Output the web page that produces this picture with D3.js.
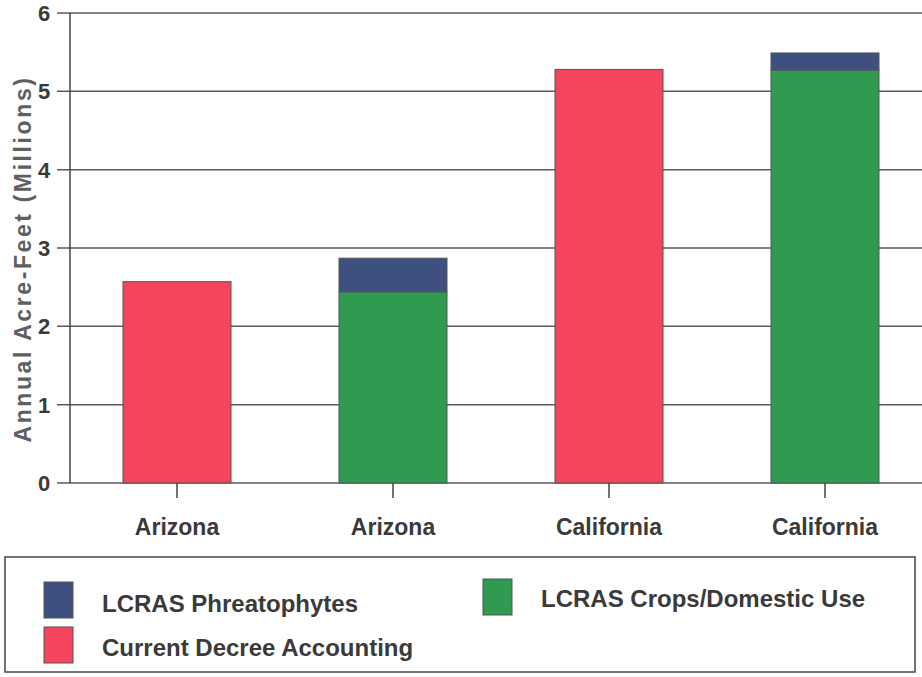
<!DOCTYPE html>
<meta charset="utf-8">
<script src="https://d3js.org/d3.v7.min.js"></script>
<style>
  body { margin: 0; background: #fff; }
  text { font-family: "Liberation Sans", Arial, sans-serif; }
</style>
<div id="chart"></div>
<script>
// data (millions of acre-feet)
var categories = ["Arizona", "Arizona ", "California", "California "];
var decree     = [2.57, 0, 5.28, 0];
var crops      = [0, 2.44, 0, 5.27];
var phreato    = [0, 0.43, 0, 0.22];
var yTicks     = [0, 1, 2, 3, 4, 5, 6];

var seriesKeys   = ["decree", "crops", "phreato"];
var seriesColors = {decree: "#f4455c", crops: "#2f9a50", phreato: "#3d5080"};

var rows = categories.map(function(c, i) {
  return {cat: c, decree: decree[i], crops: crops[i], phreato: phreato[i]};
});

var W = 922, H = 677;
var margin = {top: 13, left: 70},
    plotH = 470;

var svg = d3.select("#chart").append("svg")
    .attr("width", W)
    .attr("height", H);

// plot runs past the right edge of the picture (it was cropped)
var x = d3.scaleBand()
    .domain(categories)
    .range([margin.left - 1, margin.left + 863])
    .paddingInner(0.5)
    .paddingOuter(0.25);

var y = d3.scaleLinear()
    .domain([0, 6])
    .range([margin.top + plotH, margin.top]);

// gridlines + left ticks
svg.append("g")
    .selectAll("line")
    .data(yTicks)
    .enter().append("line")
      .attr("x1", margin.left - 13)
      .attr("x2", W + 20)
      .attr("y1", function(d) { return y(d); })
      .attr("y2", function(d) { return y(d); })
      .attr("stroke", "#5a5a5a")
      .attr("stroke-width", 1.5);

// y tick labels
svg.append("g")
    .selectAll("text")
    .data(yTicks)
    .enter().append("text")
      .attr("x", 44)
      .attr("y", function(d) { return y(d); })
      .attr("dy", "0.36em")
      .attr("text-anchor", "middle")
      .style("font-size", "22px")
      .style("font-weight", "bold")
      .style("fill", "#3a3a3a")
      .text(function(d) { return d; });

// y axis line
svg.append("line")
    .attr("x1", margin.left).attr("x2", margin.left)
    .attr("y1", y(6)).attr("y2", y(0))
    .attr("stroke", "#444")
    .attr("stroke-width", 1.5);

// stacked bars
var stacked = d3.stack().keys(seriesKeys)(rows);

svg.append("g")
    .selectAll("g")
    .data(stacked)
    .enter().append("g")
      .attr("fill", function(d) { return seriesColors[d.key]; })
    .selectAll("rect")
    .data(function(d) { return d.filter(function(p) { return p[1] - p[0] > 0; }); })
    .enter().append("rect")
      .attr("x", function(d) { return x(d.data.cat); })
      .attr("width", x.bandwidth())
      .attr("y", function(d) { return y(d[1]); })
      .attr("height", function(d) { return y(d[0]) - y(d[1]); })
      .attr("stroke", "#555")
      .attr("stroke-width", 1);

// x ticks + labels
var xg = svg.append("g");
xg.selectAll("line")
    .data(categories)
    .enter().append("line")
      .attr("x1", function(d) { return x(d) + x.bandwidth() / 2; })
      .attr("x2", function(d) { return x(d) + x.bandwidth() / 2; })
      .attr("y1", y(0))
      .attr("y2", y(0) + 15)
      .attr("stroke", "#444")
      .attr("stroke-width", 1.5);
xg.selectAll("text")
    .data(categories)
    .enter().append("text")
      .attr("x", function(d) { return x(d) + x.bandwidth() / 2; })
      .attr("y", 535)
      .attr("text-anchor", "middle")
      .style("font-size", "23px")
      .style("font-weight", "bold")
      .style("fill", "#3a3a3a")
      .text(function(d) { return d.trim(); });

// y axis title
svg.append("text")
    .attr("transform", "translate(31,259) rotate(-90)")
    .attr("text-anchor", "middle")
    .style("font-size", "23px")
    .style("font-weight", "bold")
    .style("letter-spacing", "2.6px")
    .style("fill", "#5f5f5f")
    .text("Annual Acre-Feet (Millions)");

// legend
svg.append("rect")
    .attr("x", 5).attr("y", 557)
    .attr("width", 910).attr("height", 115)
    .attr("fill", "none")
    .attr("stroke", "#444")
    .attr("stroke-width", 1.5);

var legendItems = [
  {key: "phreato", label: "LCRAS Phreatophytes",       x: 44,  y: 582, ty: 612},
  {key: "decree",  label: "Current Decree Accounting", x: 44,  y: 627, ty: 656},
  {key: "crops",   label: "LCRAS Crops/Domestic Use",  x: 483, y: 579, ty: 607}
];

var lg = svg.append("g")
    .selectAll("g")
    .data(legendItems)
    .enter().append("g");

lg.append("rect")
    .attr("x", function(d) { return d.x; })
    .attr("y", function(d) { return d.y; })
    .attr("width", 29)
    .attr("height", 36)
    .attr("fill", function(d) { return seriesColors[d.key]; })
    .attr("stroke", "#555");

lg.append("text")
    .attr("x", function(d) { return d.x + 58; })
    .attr("y", function(d) { return d.ty; })
    .style("font-size", "24px")
    .style("font-weight", "bold")
    .style("fill", "#3a3a3a")
    .text(function(d) { return d.label; });
</script>
